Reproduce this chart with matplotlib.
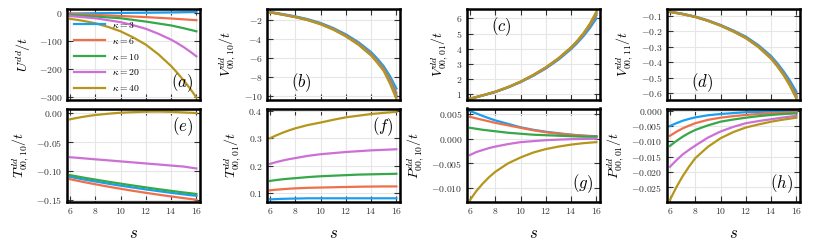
import matplotlib
matplotlib.use("Agg")
import matplotlib.pyplot as plt

plt.rcParams['mathtext.fontset'] = 'cm'
plt.rcParams['font.family'] = ['DejaVu Serif']
plt.rcParams['axes.formatter.use_mathtext'] = True

s_top = [6, 7, 8, 9, 10, 11, 12, 13, 14, 14.5, 15, 15.5, 16]
s_bot = [6, 6.5, 7, 7.5, 8, 9, 10, 11, 12, 13, 14, 15, 16]
kappas = [3, 6, 10, 20, 40]
colors = ['#1a9ff0', '#ef6f4a', '#36a84a', '#cc70d6', '#b5961c']

U = {
    3: [-1, -0.5, 0, 0.5, 1, 1.5, 2, 2.5, 3, 3.5, 4, 4.5, 5],
    6: [-2, -4, -6, -8, -10, -12, -14, -16.5, -19, -20.5, -22, -23.5, -25],
    10: [-6, -9, -12, -15, -18, -24, -30, -37, -44, -49, -54, -59.5, -65],
    20: [-10, -14, -18, -25, -32, -43, -56, -74, -95, -108, -122, -138, -155],
    40: [-20, -27, -36, -49, -65, -87, -113, -148, -190, -215, -242, -271, -303],
}
V10 = {
    3: [-1.15, -1.38, -1.62, -1.92, -2.32, -2.85, -3.52, -4.35, -5.40, -6.10, -6.90, -7.95, -9.25],
    6: [-1.18, -1.41, -1.66, -1.97, -2.38, -2.93, -3.62, -4.48, -5.57, -6.30, -7.13, -8.25, -9.70],
    10: [-1.19, -1.42, -1.68, -1.99, -2.41, -2.96, -3.66, -4.53, -5.64, -6.38, -7.22, -8.42, -9.95],
    20: [-1.20, -1.43, -1.69, -2.01, -2.43, -2.99, -3.70, -4.58, -5.70, -6.45, -7.30, -8.58, -10.15],
    40: [-1.21, -1.45, -1.71, -2.03, -2.46, -3.02, -3.74, -4.63, -5.77, -6.54, -7.40, -8.75, -10.35],
}
V01 = {
    3: [0.70, 0.92, 1.15, 1.45, 1.80, 2.22, 2.70, 3.28, 3.98, 4.39, 4.85, 5.38, 6.00],
    6: [0.71, 0.93, 1.16, 1.46, 1.82, 2.25, 2.74, 3.33, 4.04, 4.47, 4.95, 5.52, 6.20],
    10: [0.71, 0.93, 1.17, 1.47, 1.83, 2.26, 2.76, 3.35, 4.07, 4.50, 5.00, 5.58, 6.30],
    20: [0.72, 0.94, 1.17, 1.47, 1.83, 2.27, 2.77, 3.37, 4.09, 4.52, 5.02, 5.63, 6.38],
    40: [0.72, 0.94, 1.18, 1.48, 1.84, 2.28, 2.78, 3.38, 4.10, 4.54, 5.05, 5.67, 6.45],
}
V11 = {
    3: [-0.074, -0.088, -0.106, -0.130, -0.160, -0.195, -0.235, -0.290, -0.360, -0.407, -0.460, -0.520, -0.590],
    6: [-0.075, -0.089, -0.107, -0.132, -0.162, -0.198, -0.240, -0.296, -0.369, -0.417, -0.472, -0.536, -0.610],
    10: [-0.075, -0.090, -0.108, -0.133, -0.163, -0.200, -0.242, -0.299, -0.373, -0.421, -0.478, -0.543, -0.620],
    20: [-0.076, -0.090, -0.108, -0.133, -0.164, -0.201, -0.244, -0.301, -0.376, -0.424, -0.482, -0.549, -0.628],
    40: [-0.076, -0.091, -0.109, -0.134, -0.165, -0.202, -0.245, -0.303, -0.378, -0.428, -0.485, -0.554, -0.635],
}
T10 = {
    3: [-0.110, -0.1121, -0.1142, -0.1161, -0.118, -0.1217, -0.1252, -0.1285, -0.1317, -0.1347, -0.1376, -0.1403, -0.1428],
    6: [-0.114, -0.1163, -0.1186, -0.1207, -0.1228, -0.1268, -0.1306, -0.1342, -0.1376, -0.1408, -0.1439, -0.1468, -0.1495],
    10: [-0.107, -0.109, -0.111, -0.1129, -0.1147, -0.1183, -0.1217, -0.125, -0.1282, -0.1313, -0.1342, -0.137, -0.1396],
    20: [-0.076, -0.0769, -0.0778, -0.0787, -0.0796, -0.0814, -0.0832, -0.085, -0.0868, -0.0886, -0.0904, -0.0922, -0.0955],
    40: [-0.0104, -0.0082, -0.0062, -0.0045, -0.003, -0.0008, 0.001, 0.002, 0.0028, 0.003, 0.0025, 0.0015, 0.0005],
}
T01 = {
    3: [0.078, 0.0791, 0.080, 0.0806, 0.081, 0.082, 0.082, 0.082, 0.082, 0.082, 0.082, 0.082, 0.082],
    6: [0.111, 0.1132, 0.115, 0.1167, 0.118, 0.120, 0.121, 0.122, 0.123, 0.124, 0.1245, 0.125, 0.125],
    10: [0.145, 0.1483, 0.151, 0.1532, 0.155, 0.159, 0.162, 0.164, 0.166, 0.168, 0.169, 0.170, 0.171],
    20: [0.207, 0.2135, 0.219, 0.224, 0.228, 0.236, 0.242, 0.246, 0.250, 0.253, 0.256, 0.258, 0.260],
    40: [0.300, 0.3105, 0.320, 0.3285, 0.336, 0.348, 0.357, 0.367, 0.376, 0.382, 0.388, 0.392, 0.396],
}
P10 = {
    3: [0.0056, 0.0051, 0.0046, 0.00413, 0.0037, 0.0030, 0.0023, 0.0018, 0.0014, 0.0011, 0.0008, 0.0006, 0.0005],
    6: [0.0044, 0.0041, 0.0038, 0.0035, 0.0032, 0.0027, 0.0022, 0.0017, 0.0013, 0.0010, 0.0008, 0.0006, 0.0004],
    10: [0.0022, 0.0020, 0.0018, 0.00165, 0.0015, 0.0012, 0.0010, 0.0008, 0.0007, 0.0006, 0.0005, 0.0004, 0.0004],
    20: [-0.0033, -0.0027, -0.0023, -0.0019, -0.0016, -0.0011, -0.0007, -0.0005, -0.0003, -0.0002, -0.0001, -0.00005, 0.0],
    40: [-0.0124, -0.0106, -0.0091, -0.0078, -0.0067, -0.0050, -0.0038, -0.0028, -0.0021, -0.0016, -0.0012, -0.0009, -0.0007],
}
P01 = {
    3: [-0.0050, -0.0041, -0.0033, -0.0027, -0.0022, -0.0015, -0.0011, -0.0008, -0.0005, -0.0004, -0.0003, -0.00025, -0.0002],
    6: [-0.0082, -0.0069, -0.0058, -0.0049, -0.0041, -0.0030, -0.0023, -0.0018, -0.0014, -0.0011, -0.0009, -0.0007, -0.0005],
    10: [-0.0115, -0.0099, -0.0085, -0.0073, -0.0063, -0.0048, -0.0036, -0.0029, -0.0023, -0.0018, -0.0014, -0.0011, -0.0009],
    20: [-0.0183, -0.0162, -0.0143, -0.0128, -0.0114, -0.0088, -0.0068, -0.0053, -0.0041, -0.0034, -0.0028, -0.0022, -0.0017],
    40: [-0.0291, -0.0250, -0.0214, -0.0183, -0.0155, -0.0118, -0.0090, -0.0070, -0.0055, -0.0045, -0.0036, -0.0029, -0.0023],
}

panels = [
    (U, r'$U^{dd}/t$', (-312, 17), [0, -100, -200, -300], '(a)', (0.95, 0.07), 'right', 'bottom'),
    (V10, r'$V^{dd}_{00,10}/t$', (-10.46, -0.79), [-2, -4, -6, -8, -10], '(b)', (0.18, 0.07), 'left', 'bottom'),
    (V01, r'$V^{dd}_{00,01}/t$', (0.63, 6.65), [1, 2, 3, 4, 5, 6], '(c)', (0.18, 0.93), 'left', 'top'),
    (V11, r'$V^{dd}_{00,11}/t$', (-0.643, -0.054), [-0.1, -0.2, -0.3, -0.4, -0.5, -0.6], '(d)', (0.18, 0.07), 'left', 'bottom'),
    (T10, r'$T^{dd}_{00,10}/t$', (-0.1535, 0.0083), [0.0, -0.05, -0.10, -0.15], '(e)', (0.95, 0.93), 'right', 'top'),
    (T01, r'$T^{dd}_{00,01}/t$', (0.0685, 0.408), [0.1, 0.2, 0.3, 0.4], '(f)', (0.95, 0.93), 'right', 'top'),
    (P10, r'$P^{dd}_{00,10}/t$', (-0.0128, 0.0061), [0.005, 0.0, -0.005, -0.010], '(g)', (0.95, 0.07), 'right', 'bottom'),
    (P01, r'$P^{dd}_{00,01}/t$', (-0.0298, 0.0007), [0.0, -0.005, -0.010, -0.015, -0.020, -0.025], '(h)', (0.95, 0.07), 'right', 'bottom'),
]
ytick_fmt = ['%d', '%d', '%d', '%.1f', '%.2f', '%.1f', '%.3f', '%.3f']

W, H = 813, 240
fig = plt.figure(figsize=(W / 100, H / 100), dpi=100)

for i, (data, ylab, ylim, yt, lab, pos, ha, va) in enumerate(panels):
    row, col = divmod(i, 4)
    xs = s_top if row == 0 else s_bot
    left = (66.7 + 200 * col) / W
    if row == 0:
        bottom = 1 - 100 / H
        height = 91.5 / H
    else:
        bottom = 1 - 202 / H
        height = 93.5 / H
    ax = fig.add_axes([left, bottom, 133 / W, height])
    for k, c in zip(kappas, colors):
        ax.plot(xs, data[k], color=c, lw=1.6, label=r'$\kappa = %d$' % k)
    ax.set_xlim(5.74, 16.26)
    ax.set_ylim(*ylim)
    ax.set_xticks([6, 8, 10, 12, 14, 16])
    ax.set_yticks(yt)
    fmt = ytick_fmt[i]
    ax.set_yticklabels([('$' + fmt + '$') % v if v >= 0 else ('$-' + fmt + '$') % (-v) for v in yt])
    ax.grid(True, color='#e6e6e6', lw=0.8)
    ax.set_axisbelow(True)
    for sp in ax.spines.values():
        sp.set_linewidth(1.8)
        sp.set_color('black')
    ax.tick_params(direction='in', top=True, right=True, length=4, width=0.8,
                   labelsize=7, colors='#333333', labelcolor='#333333', pad=3)
    if row == 0:
        ax.tick_params(labelbottom=False)
    else:
        ax.set_xticklabels(['$%d$' % v for v in [6, 8, 10, 12, 14, 16]])
        ax.set_xlabel(r'$s$', fontsize=12, labelpad=6)
    ax.set_ylabel(ylab, fontsize=10, labelpad=4)
    ax.text(pos[0], pos[1], r'$' + lab + '$', transform=ax.transAxes,
            fontsize=12, ha=ha, va=va)
    if i == 0:
        ax.legend(loc='lower left', frameon=False, fontsize=7, handlelength=3.2,
                  borderaxespad=0.3, labelspacing=0.6, bbox_to_anchor=(0.0, 0.0))

fig.savefig('out.png', dpi=100)
